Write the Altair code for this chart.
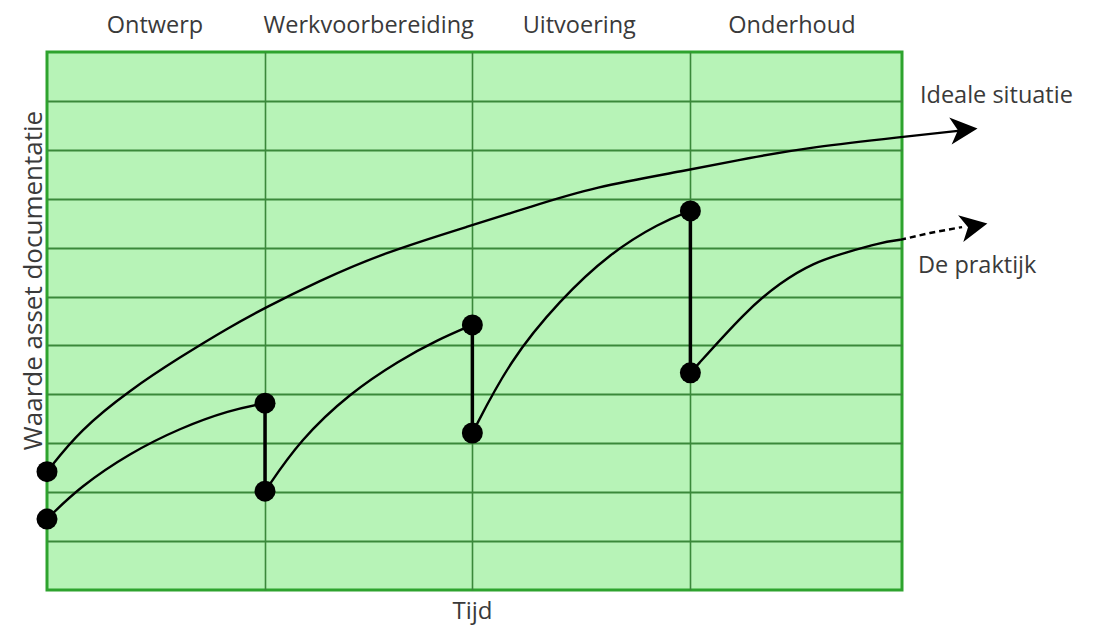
import altair as alt
import pandas as pd

# ---------------- data ----------------
phase_names = ["Ontwerp", "Werkvoorbereiding", "Uitvoering", "Onderhoud"]
phase_bounds = [0, 1.02, 1.99, 3.01, 4]
phase_label_x = [0.505, 1.505, 2.49, 3.485]
phase_label_y = [11.39, 11.39, 11.39, 11.39]
grid_y = [1, 2, 3, 4, 5, 6, 7, 8, 9, 10]

ideal_x = [0.0, 0.154, 0.388, 0.622, 0.856, 1.02, 1.263, 1.572, 1.99, 2.246, 2.554, 3.01, 3.275, 3.584, 3.991, 4.29]
ideal_y = [2.42, 3.27, 4.09, 4.76, 5.38, 5.77, 6.30, 6.89, 7.46, 7.81, 8.24, 8.59, 8.83, 9.06, 9.26, 9.40]

prak1_x = [0.0, 0.154, 0.388, 0.622, 0.856, 1.02]
prak1_y = [1.45, 2.11, 2.80, 3.31, 3.68, 3.82]
prak2_x = [1.02, 1.184, 1.418, 1.651, 1.825, 1.99]
prak2_y = [2.02, 3.07, 4.03, 4.70, 5.11, 5.42]
prak3_x = [1.99, 2.166, 2.40, 2.634, 2.868, 3.01]
prak3_y = [3.21, 4.70, 5.93, 6.89, 7.51, 7.75]
prak4_x = [3.01, 3.275, 3.429, 3.584, 3.743, 3.897, 3.991]
prak4_y = [4.44, 5.73, 6.28, 6.69, 6.91, 7.10, 7.16]
prak_dash_x = [3.991, 4.131, 4.281]
prak_dash_y = [7.16, 7.30, 7.42]

dot_x = [0.0, 0.0, 1.02, 1.02, 1.99, 1.99, 3.01, 3.01]
dot_y = [2.42, 1.45, 3.82, 2.02, 5.42, 3.21, 7.75, 4.44]

jump_x = [1.02, 1.99, 3.01]
jump_top = [3.82, 5.42, 7.75]
jump_bottom = [2.02, 3.21, 4.44]

arrow_x = [4.29, 4.337]
arrow_y = [9.41, 7.44]
arrow_angle = [355, 349]

line_labels = ["Ideale situatie", "De praktijk"]
line_label_x = [4.084, 4.075]
line_label_y = [9.96, 6.48]

# ---------------- styling ----------------
FONT = "Open Sans"
TEXT_COLOR = "#3a3a3a"
FILL = "#b7f3b7"
GRID = "#3a883a"
BORDER = "#2ea32e"
ARROW_PATH = "M 1 0 L -1 -1 L -0.45 0 L -1 1 Z"

xs = alt.Scale(domain=[0, 4], nice=False, zero=False)
ys = alt.Scale(domain=[0, 11], nice=False, zero=False)

x_axis = alt.Axis(
    values=phase_bounds[1:-1], grid=True, gridColor=GRID, gridWidth=1.6, gridOpacity=1,
    labels=False, ticks=False, domain=False,
    title="Tijd", titleFont=FONT, titleFontSize=24, titleFontWeight="normal",
    titleColor=TEXT_COLOR, titleX=425, titleY=28, titleBaseline="alphabetic",
    titleAlign="center")
y_axis = alt.Axis(
    values=grid_y, grid=True, gridColor=GRID, gridWidth=2.2, gridOpacity=1,
    labels=False, ticks=False, domain=False,
    title="Waarde asset documentatie", titleFont=FONT, titleFontSize=26,
    titleFontWeight="normal", titleColor=TEXT_COLOR, titleAngle=270,
    titleX=-6, titleY=228, titleBaseline="alphabetic", titleAlign="center")


def X():
    return alt.X("x:Q", scale=xs, axis=x_axis)


def Y():
    return alt.Y("y:Q", scale=ys, axis=y_axis)


# ---------------- tables ----------------
ideal_df = pd.DataFrame({"x": ideal_x, "y": ideal_y, "seg": "ideal"})
prak_df = pd.concat([
    pd.DataFrame({"x": prak1_x, "y": prak1_y, "seg": "p1"}),
    pd.DataFrame({"x": prak2_x, "y": prak2_y, "seg": "p2"}),
    pd.DataFrame({"x": prak3_x, "y": prak3_y, "seg": "p3"}),
    pd.DataFrame({"x": prak4_x, "y": prak4_y, "seg": "p4"}),
], ignore_index=True)
dash_df = pd.DataFrame({"x": prak_dash_x, "y": prak_dash_y})
dot_df = pd.DataFrame({"x": dot_x, "y": dot_y})
jump_df = pd.DataFrame({"x": jump_x, "y": jump_top, "y2": jump_bottom})
arrow_df = pd.DataFrame({"x": arrow_x, "y": arrow_y, "a": arrow_angle})
phase_df = pd.DataFrame({"x": phase_label_x, "y": phase_label_y, "t": phase_names})
lab_df = pd.DataFrame({"x": line_label_x, "y": line_label_y, "t": line_labels})

# ---------------- layers ----------------
ideal = alt.Chart(ideal_df).mark_line(color="black", strokeWidth=2.4, interpolate="basis").encode(
    x=X(), y=Y(), detail="seg:N")

prak = alt.Chart(prak_df).mark_line(color="black", strokeWidth=2.4, interpolate="basis").encode(
    x=X(), y=Y(), detail="seg:N")

dash = alt.Chart(dash_df).mark_line(color="black", strokeWidth=2.4, strokeDash=[6, 4]).encode(
    x=X(), y=Y())

jumps = alt.Chart(jump_df).mark_rule(color="black", strokeWidth=3.5).encode(
    x=X(), y=Y(), y2="y2:Q")

dots = alt.Chart(dot_df).mark_point(filled=True, color="black", opacity=1, size=440, shape="circle").encode(
    x=X(), y=Y())

arrows = alt.Chart(arrow_df).mark_point(filled=True, color="black", opacity=1, size=740, shape=ARROW_PATH).encode(
    x=X(), y=Y(), angle=alt.Angle("a:Q", scale=None))

phases = alt.Chart(phase_df).mark_text(font=FONT, fontSize=23.5, color=TEXT_COLOR,
                                        align="center", baseline="alphabetic").encode(
    x=X(), y=Y(), text="t:N")

labels = alt.Chart(lab_df).mark_text(font=FONT, fontSize=23.5, color=TEXT_COLOR,
                                      align="left", baseline="alphabetic").encode(
    x=X(), y=Y(), text="t:N")

chart = alt.layer(ideal, prak, dash, jumps, dots, arrows, phases, labels).properties(
    width=855, height=538,
    autosize=alt.AutoSizeParams(type="none"),
    padding={"left": 39, "top": 44, "right": 186, "bottom": 36},
    background="white",
).configure_view(fill=FILL, stroke=BORDER, strokeWidth=3)

chart.save("out.html", embed_options={"renderer": "svg", "actions": False})
